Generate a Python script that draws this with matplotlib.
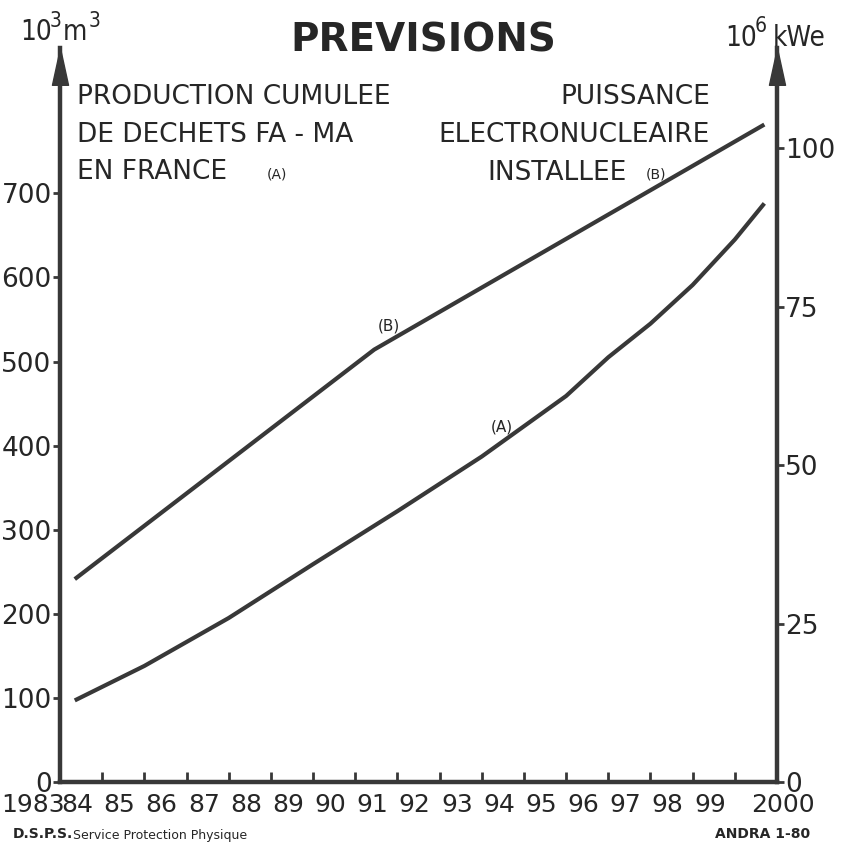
"""PREVISIONS: cumulative FA-MA waste production vs installed nuclear power."""
import matplotlib

matplotlib.use("Agg")
import matplotlib.pyplot as plt  # noqa: E402
from matplotlib import font_manager, transforms  # noqa: E402

# --- data ---
years = [1983, 1984, 1985, 1986, 1987, 1988, 1989, 1990, 1991,
         1992, 1993, 1994, 1995, 1996, 1997, 1998, 1999, 2000]
year_labels = ["1983", "84", "85", "86", "87", "88", "89", "90", "91",
               "92", "93", "94", "95", "96", "97", "98", "99", "2000"]
left_ticks = [0, 100, 200, 300, 400, 500, 600, 700]
right_ticks = [0, 25, 50, 75, 100]

# (A) cumulative waste, 10^3 m3 (left axis)
waste_years = [1983.35, 1985, 1987, 1989, 1991, 1993, 1995, 1996, 1997, 1998, 1999, 1999.7]
waste_vol = [97, 138, 195, 259, 322, 387, 459, 505, 545, 591, 645, 688]

# (B) installed nuclear power, 10^6 kWe (right axis)
power_years = [1983.35, 1990.45, 1999.7]
power_gwe = [32, 68.2, 103.7]

W, H = 841, 849
INK = "#383838"
TXT = "#262626"

_fonts = {(f.name, f.stretch) for f in font_manager.fontManager.ttflist}
if ("DejaVu Sans", "condensed") in _fonts or ("DejaVu Sans", 75) in _fonts:
    UNIT = dict(family="DejaVu Sans", stretch="condensed")
else:
    UNIT = dict(family="DejaVu Sans")


def fx(px):
    return px / W


def fy(py):
    return 1 - py / H


plt.rcParams["font.family"] = ["DejaVu Sans"]

fig = plt.figure(figsize=(W / 100, H / 100), dpi=100)
x0, x1, ybot, ytop = 60, 777, 782, 48
ax = fig.add_axes([fx(x0), fy(ybot), fx(x1) - fx(x0), fy(ytop) - fy(ybot)])
ax2 = ax.twinx()

ax.plot(waste_years, waste_vol, color=INK, lw=3.0, solid_capstyle="butt")
ax2.plot(power_years, power_gwe, color=INK, lw=3.0, solid_capstyle="butt")

ax.set_xlim(1983, 2000)
ax.set_ylim(0, (ybot - ytop) / 84.1 * 100)
ax2.set_ylim(0, (ybot - ytop) / 6.34)

ax.set_xticks(years)
ax.set_xticklabels([])
ax.set_yticks(left_ticks)
ax.set_yticklabels([str(v) for v in left_ticks])
ax2.set_yticks(right_ticks)
ax2.set_yticklabels([str(v) for v in right_ticks])

# the hand-lettered years sit left of their ticks, "2000" a bit right
for i, (yr, lab) in enumerate(zip(years, year_labels)):
    if i == 0:
        dx = -0.27
    elif i == len(years) - 1:
        dx = 0.06
    else:
        dx = -0.25
    tr = ax.get_xaxis_transform() + transforms.ScaledTranslation(dx, -0.225, fig.dpi_scale_trans)
    ax.text(yr, 0, lab, transform=tr, ha="center", va="center", fontsize=18,
            color=TXT, clip_on=False)

for a in (ax, ax2):
    for s in a.spines.values():
        s.set_linewidth(3.2)
        s.set_color(INK)
    a.spines["top"].set_visible(False)
ax.spines["right"].set_visible(False)
ax2.spines["left"].set_visible(False)
ax2.spines["bottom"].set_visible(False)

ax.tick_params(axis="x", direction="in", length=7, width=2, color=INK)
ax.tick_params(axis="y", direction="out", length=5, width=2, color=INK,
               labelsize=19, labelcolor=TXT, pad=1)
ax2.tick_params(axis="y", direction="out", length=5, width=2, color=INK,
                labelsize=19, labelcolor=TXT, pad=1)

# arrow heads on both vertical axes
arrow = [(0, 0), (0.48, -2.2), (-0.48, -2.2), (0, 0)]
for xa in (0, 1):
    ax.plot([xa], [1], marker=arrow, ms=53, color=INK, mec=INK,
            transform=ax.transAxes, clip_on=False)

# title
fig.text(fx(423), fy(40), "PREVISIONS", ha="center", va="center",
         fontsize=28, fontweight="bold", color=TXT)

# unit labels, built from pieces so the exponents sit high like the lettering
for s, xp, yp, size in [("10", 20, 40, 20), ("3", 50, 27, 15), ("m", 63, 40, 20),
                        ("3", 89, 27, 15),
                        ("10", 725, 46, 20), ("6", 755, 32, 15), ("kWe", 773, 46, 20)]:
    fig.text(fx(xp), fy(yp), s, ha="left", va="baseline", color=TXT,
             fontproperties=font_manager.FontProperties(size=size, **UNIT))

for line, yy in zip(["PRODUCTION CUMULEE", "DE DECHETS FA - MA", "EN FRANCE"],
                    [97, 135, 172]):
    fig.text(fx(77), fy(yy), line, ha="left", va="center", fontsize=19, color=TXT)
fig.text(fx(277), fy(174), "(A)", ha="center", va="center", fontsize=10, color=TXT)

fig.text(fx(710), fy(97), "PUISSANCE", ha="right", va="center", fontsize=19, color=TXT)
fig.text(fx(710), fy(135), "ELECTRONUCLEAIRE", ha="right", va="center",
         fontsize=19, color=TXT)
fig.text(fx(487), fy(173), "INSTALLEE", ha="left", va="center", fontsize=19, color=TXT)
fig.text(fx(656), fy(174), "(B)", ha="center", va="center", fontsize=10, color=TXT)

# curve tags
fig.text(fx(389), fy(326), "(B)", ha="center", va="center", fontsize=11, color=TXT)
fig.text(fx(502), fy(427), "(A)", ha="center", va="center", fontsize=11, color=TXT)

# footer
fig.text(fx(13), fy(834), "D.S.P.S.", ha="left", va="center", fontsize=10,
         fontweight="bold", color=TXT)
fig.text(fx(73), fy(835), "Service Protection Physique", ha="left", va="center",
         fontsize=9, color=TXT)
fig.text(fx(810), fy(834), "ANDRA 1-80", ha="right", va="center", fontsize=10,
         fontweight="bold", color=TXT)

fig.savefig("out.png", dpi=100, facecolor="white")
